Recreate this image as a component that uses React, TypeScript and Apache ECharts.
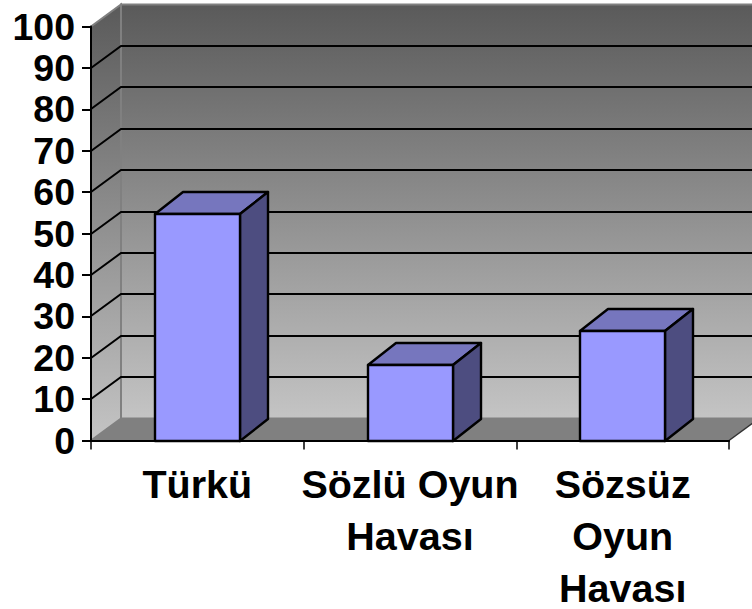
import React, { useEffect, useRef } from "react";
import * as echarts from "echarts";

const categories = ["Türkü", "Sözlü Oyun\nHavası", "Sözsüz\nOyun\nHavası"];
const values = [54.8, 18.3, 26.4];
const gridValues = [10, 20, 30, 40, 50, 60, 70, 80, 90];

const WALL_DX = 30;
const WALL_DY = 22;
const BAR_DX = 28;
const BAR_DY = 22;
const FONT = "'Liberation Sans', Arial, sans-serif";

function wallItem(_params: any, api: any) {
  const band = api.size([1, 0])[0];
  const [cFirst, y0] = api.coord([0, 0]);
  const [cLast, y1] = api.coord([categories.length - 1, 100]);
  const x0 = cFirst - band / 2;
  const x1 = cLast + band / 2;
  const grad = new echarts.graphic.LinearGradient(0, 0, 0, 1, [
    { offset: 0, color: "#5a5a5a" },
    { offset: 1, color: "#c4c4c4" },
  ]);
  const children: any[] = [
    {
      type: "polygon",
      shape: { points: [[x0 + WALL_DX, y1 - WALL_DY], [x1 + WALL_DX, y1 - WALL_DY], [x1 + WALL_DX, y0 - WALL_DY], [x0 + WALL_DX, y0 - WALL_DY]] },
      style: { fill: grad, stroke: "#808080", lineWidth: 2 },
    },
    {
      type: "polygon",
      shape: { points: [[x0, y1], [x0 + WALL_DX, y1 - WALL_DY], [x0 + WALL_DX, y0 - WALL_DY], [x0, y0]] },
      style: { fill: grad, stroke: "#808080", lineWidth: 2 },
    },
    {
      type: "polygon",
      shape: { points: [[x0, y0], [x0 + WALL_DX, y0 - WALL_DY], [x1 + WALL_DX, y0 - WALL_DY], [x1, y0]] },
      style: { fill: "#808080", stroke: "none" },
    },
    {
      type: "line",
      shape: { x1: x1, y1: y0, x2: x1 + WALL_DX, y2: y0 - WALL_DY },
      style: { stroke: "#333333", lineWidth: 1.5 },
    },
  ];
  gridValues.forEach((v) => {
    const y = Math.round(api.coord([0, v])[1]);
    children.push({
      type: "polyline",
      shape: { points: [[x0, y], [x0 + WALL_DX, y - WALL_DY], [x1 + WALL_DX, y - WALL_DY]] },
      style: { fill: "none", stroke: "#000000", lineWidth: 2 },
    });
  });
  return { type: "group", children };
}

function barItem(_params: any, api: any) {
  const idx = api.value(0);
  const val = api.value(1);
  const [cx, rawTop] = api.coord([idx, val]);
  const top = Math.round(rawTop);
  const base = Math.round(api.coord([idx, 0])[1]);
  const w = Math.round(api.size([1, 0])[0] * 0.4);
  const l = Math.round(cx - w / 2);
  const r = l + w;
  const line = { stroke: "#000000", lineWidth: 2.4, lineJoin: "round" };
  return {
    type: "group",
    children: [
      {
        type: "polygon",
        shape: { points: [[l, top], [l + BAR_DX, top - BAR_DY], [r + BAR_DX, top - BAR_DY], [r, top]] },
        style: { fill: "#7676BE", ...line },
      },
      {
        type: "polygon",
        shape: { points: [[r, top], [r + BAR_DX, top - BAR_DY], [r + BAR_DX, base - BAR_DY], [r, base]] },
        style: { fill: "#4D4D80", ...line },
      },
      {
        type: "rect",
        shape: { x: l, y: top, width: w, height: base - top },
        style: { fill: "#9999FF", ...line },
      },
    ],
  };
}

export default function App() {
  const ref = useRef<HTMLDivElement>(null);
  useEffect(() => {
    const chart = echarts.init(ref.current!, undefined, { renderer: "svg" });
    chart.setOption({
      animation: false,
      backgroundColor: "#ffffff",
      grid: { left: 91, top: 26.5, width: 638, height: 414, outerBoundsMode: "none", containLabel: false },
      xAxis: {
        type: "category",
        data: categories,
        z: 5,
        axisLine: { lineStyle: { color: "#000", width: 2 } },
        axisTick: { show: true, alignWithLabel: false, length: 9, lineStyle: { color: "#000", width: 1.5 } },
        splitLine: { show: false },
        axisLabel: {
          interval: 0,
          margin: 17,
          color: "#000",
          fontFamily: FONT,
          fontWeight: "bold",
          fontSize: 39.5,
          lineHeight: 52,
        },
      },
      yAxis: {
        type: "value",
        min: 0,
        max: 100,
        interval: 10,
        z: 5,
        axisLine: { show: true, lineStyle: { color: "#000", width: 2 } },
        axisTick: { show: true, length: 9, lineStyle: { color: "#000", width: 2 } },
        splitLine: { show: false },
        axisLabel: {
          margin: 16,
          color: "#000",
          fontFamily: FONT,
          fontWeight: "bold",
          fontSize: 37.5,
        },
      },
      series: [
        {
          type: "custom",
          z: 1,
          silent: true,
          renderItem: wallItem,
          data: [[0, 0]],
          encode: { x: 0, y: 1 },
        },
        {
          type: "custom",
          z: 2,
          renderItem: barItem,
          data: values.map((v, i) => [i, v]),
          encode: { x: 0, y: 1 },
        },
      ],
    });
    return () => chart.dispose();
  }, []);
  return <div ref={ref} style={{ position: "absolute", left: 0, top: 0, width: 752, height: 609 }} />;
}
